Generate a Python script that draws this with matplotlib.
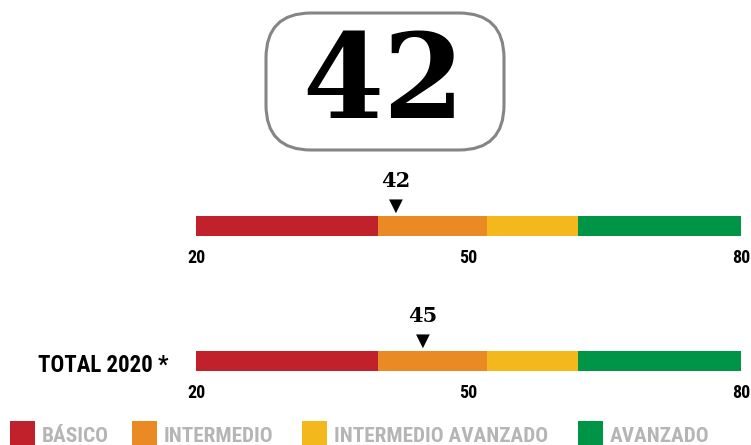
import matplotlib

matplotlib.use("Agg")
import matplotlib.pyplot as plt
from matplotlib.patches import FancyBboxPatch, Rectangle

# niveles de desempeño (limites de cada tramo)
level_names = ["BÁSICO", "INTERMEDIO", "INTERMEDIO AVANZADO", "AVANZADO"]
level_bounds = [20, 40, 52, 62, 80]
level_colors = ["#c1212a", "#e98a25", "#f3b81c", "#009446"]

score_main = 42
rows = ["", "TOTAL 2020 *"]
row_scores = [42, 45]
tick_values = [20, 50, 80]

W, H = 751, 445
narrow = ["Roboto Condensed", "Liberation Sans", "DejaVu Sans"]
serif = ["DejaVu Serif"]

fig = plt.figure(figsize=(W / 100, H / 100), dpi=100)


def fx(px):
    return px / W


def fy(py):
    return 1 - py / H


# caja con el puntaje principal
box = FancyBboxPatch(
    (fx(266), fy(150)), fx(238), (150 - 13) / H,
    boxstyle="round,pad=0,rounding_size=0.06",
    transform=fig.transFigure, facecolor="white",
    edgecolor="#858585", linewidth=2.2, mutation_aspect=W / H,
)
fig.patches.append(box)
fig.text(fx(383), fy(86), str(score_main), ha="center", va="center",
         fontsize=84, fontweight="heavy", family=serif, color="black")

bar_tops = [216, 351]
for label, score, top in zip(rows, row_scores, bar_tops):
    ax = fig.add_axes([fx(196), fy(top + 20), fx(545), 20 / H])
    for i in range(len(level_names)):
        ax.barh(0.5, level_bounds[i + 1] - level_bounds[i], left=level_bounds[i],
                height=1, color=level_colors[i], linewidth=0)
    ax.set_xlim(level_bounds[0], level_bounds[-1])
    ax.set_ylim(0, 1)
    ax.set_yticks([])
    ax.set_xticks(tick_values)
    ax.set_xticklabels([str(v) for v in tick_values], fontsize=13,
                       fontweight="bold", family=narrow)
    ax.tick_params(axis="x", length=0, pad=9.5)
    for spine in ax.spines.values():
        spine.set_visible(False)

    ax.annotate("▼", xy=(score, 1), xytext=(0, 7), textcoords="offset points",
                ha="center", va="center", fontsize=13, color="black",
                annotation_clip=False)
    ax.annotate(str(score), xy=(score, 1), xytext=(0, 25),
                textcoords="offset points", ha="center", va="center",
                fontsize=15, fontweight="bold", family=serif,
                color="black", annotation_clip=False)
    if label:
        fig.text(fx(168), fy(top + 14), label, ha="right", va="center",
                 fontsize=16.5, fontweight="bold", family=narrow)

# leyenda
legend_x = [10, 132, 302, 578]
for name, color, x in zip(level_names, level_colors, legend_x):
    fig.patches.append(Rectangle((fx(x), 0), fx(25), (H - 421) / H,
                                 transform=fig.transFigure, facecolor=color,
                                 linewidth=0))
    fig.text(fx(x + 32), fy(437), name, ha="left", va="center", fontsize=15.3,
             fontweight="bold", family=narrow, color="#b5b5b5")

fig.savefig("out.png", dpi=100)
